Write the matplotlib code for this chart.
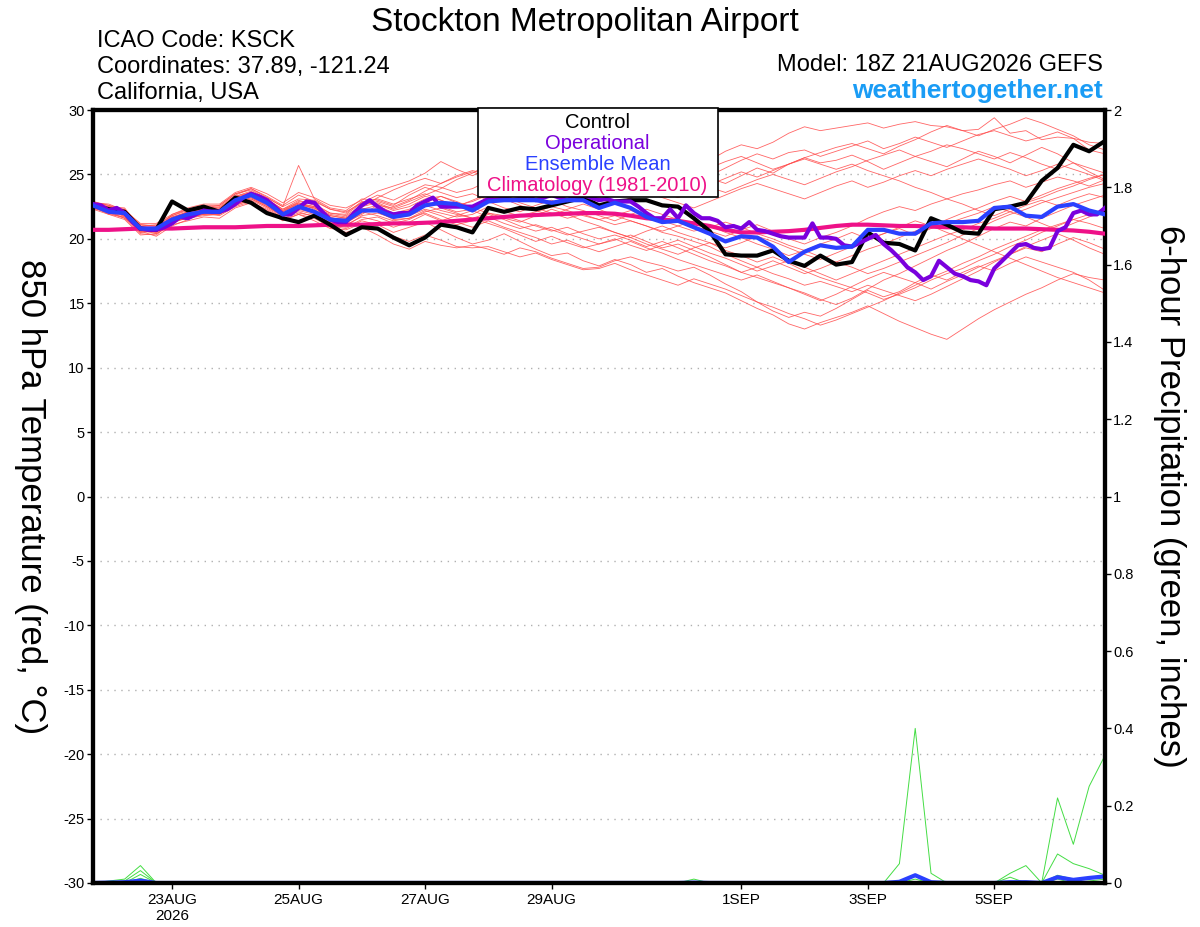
import matplotlib
matplotlib.use("Agg")
import matplotlib.pyplot as plt
import pandas as pd

# ---- data -------------------------------------------------------------
times = pd.date_range("2026-08-21 18:00", "2026-09-06 18:00", freq="6h")
times_op = pd.date_range("2026-08-21 18:00", "2026-09-06 18:00", freq="3h")

control = [22.6, 22.3, 22.1, 20.8, 20.7, 22.9, 22.2, 22.5,
           22.1, 23.2, 22.8, 22.0, 21.6, 21.3, 21.8, 21.1,
           20.3, 20.9, 20.8, 20.1, 19.5, 20.1, 21.1, 20.9,
           20.5, 22.4, 22.1, 22.4, 22.3, 22.6, 22.9, 23.2,
           22.6, 22.9, 23.0, 23.0, 22.6, 22.5, 21.6, 20.6,
           18.8, 18.7, 18.7, 19.1, 18.3, 17.9, 18.7, 18.0,
           18.2, 20.5, 19.7, 19.6, 19.1, 21.6, 21.1, 20.5,
           20.4, 22.3, 22.5, 22.8, 24.5, 25.5, 27.3, 26.8,
           27.6]

ens_mean = [22.6, 22.1, 22.0, 20.8, 20.8, 21.5, 21.9, 22.1,
            22.1, 23.0, 23.4, 22.8, 21.9, 22.5, 22.1, 21.5,
            21.4, 22.2, 22.2, 21.7, 21.9, 22.6, 22.8, 22.7,
            22.2, 22.9, 23.0, 23.0, 23.0, 22.8, 23.0, 23.0,
            22.4, 22.8, 22.4, 21.7, 21.3, 21.4, 20.9, 20.4,
            19.8, 20.2, 20.1, 19.4, 18.2, 19.0, 19.5, 19.3,
            19.4, 20.7, 20.7, 20.4, 20.4, 21.2, 21.3, 21.3,
            21.4, 22.4, 22.5, 21.8, 21.7, 22.5, 22.7, 22.2,
            21.9]

climatology = [20.7, 20.7, 20.75, 20.8, 20.8, 20.8, 20.85, 20.9,
               20.9, 20.9, 20.95, 21.0, 21.0, 21.0, 21.05, 21.1,
               21.1, 21.1, 21.15, 21.2, 21.2, 21.25, 21.3, 21.4,
               21.5, 21.6, 21.7, 21.8, 21.85, 21.9, 21.95, 22.0,
               22.0, 21.95, 21.8, 21.6, 21.5, 21.4, 21.2, 21.0,
               20.7, 20.5, 20.5, 20.55, 20.6, 20.7, 20.85, 21.0,
               21.1, 21.1, 21.05, 21.0, 21.0, 20.95, 20.9, 20.9,
               20.85, 20.8, 20.8, 20.8, 20.75, 20.7, 20.65, 20.55,
               20.4]

operational = [22.7, 22.6, 22.2, 22.4, 22.0, 21.3, 20.8, 20.7,
               20.7, 20.9, 21.2, 21.7, 21.6, 21.9, 22.2, 22.1,
               22.1, 22.3, 22.7, 23.2, 23.5, 23.3, 23.0, 22.5,
               21.9, 21.9, 22.4, 22.9, 22.8, 22.1, 21.5, 21.3,
               21.3, 22.0, 22.6, 23.0, 22.5, 22.1, 21.9, 22.0,
               22.0, 22.6, 22.9, 23.2, 22.5, 22.5, 22.5, 22.5,
               22.5, 22.8, 23.1, 23.0, 23.2, 23.0, 23.1, 23.3,
               23.0, 23.2, 23.4, 23.2, 23.0, 23.3, 23.4, 23.2,
               23.0, 23.1, 22.9, 22.9, 22.9, 22.5, 22.0, 21.6,
               21.6, 22.3, 21.6, 22.6, 22.0, 21.6, 21.6, 21.4,
               20.9, 21.0, 20.8, 21.3, 20.7, 20.6, 20.4, 20.2,
               20.1, 20.1, 20.1, 21.2, 20.1, 20.1, 20.0, 19.5,
               19.4, 19.7, 20.0, 20.3, 19.6, 19.1, 18.5, 17.8,
               17.4, 16.8, 17.1, 18.3, 17.8, 17.3, 17.1, 16.8,
               16.7, 16.4, 17.7, 18.3, 18.9, 19.5, 19.6, 19.3,
               19.2, 19.3, 20.6, 20.9, 22.0, 22.2, 21.9, 21.9,
               22.4]

members = [
    [22.8, 22.6, 22.0, 20.9, 20.6, 21.9, 22.3, 22.4, 22.6, 23.5, 23.8, 23.1, 22.3, 23.0, 22.6, 22.0,
     21.9, 22.8, 23.4, 23.0, 23.6, 24.2, 24.0, 23.6, 23.9, 24.5, 24.8, 24.3, 24.6, 25.0, 24.7, 24.2,
     24.6, 25.1, 25.4, 25.0, 25.6, 26.2, 26.5, 26.1, 26.8, 27.3, 27.0, 27.5, 28.2, 28.7, 28.4, 28.6,
     28.8, 29.0, 28.6, 28.9, 29.1, 28.8, 28.7, 28.4, 28.5, 29.4, 28.2, 28.4, 27.7, 27.9, 27.8, 27.5, 27.4],
    [22.5, 22.3, 21.8, 20.5, 20.8, 21.4, 22.0, 22.3, 22.0, 23.2, 23.6, 23.2, 22.5, 25.7, 23.1, 22.4,
     22.2, 23.1, 23.0, 22.6, 23.4, 24.0, 23.6, 23.2, 23.5, 23.0, 23.8, 24.4, 23.9, 24.3, 24.1, 23.5,
     23.2, 23.6, 24.3, 24.9, 25.4, 25.8, 25.3, 24.9, 25.5, 26.1, 26.6, 26.2, 26.7, 26.9, 26.4, 26.8,
     27.2, 27.6, 27.0, 27.4, 27.9, 27.5, 27.1, 27.6, 28.1, 28.4, 28.0, 27.6, 27.9, 28.3, 27.8, 26.9, 26.6],
    [22.4, 22.0, 22.2, 20.8, 20.5, 21.2, 21.7, 22.0, 22.3, 22.8, 23.2, 22.6, 21.8, 22.6, 22.4, 21.7,
     21.3, 21.9, 22.6, 22.4, 22.9, 23.4, 23.9, 24.6, 25.1, 25.8, 26.3, 25.6, 25.2, 24.8, 24.2, 23.6,
     23.8, 24.5, 24.1, 23.7, 24.2, 24.8, 25.2, 24.7, 24.3, 24.9, 25.5, 25.1, 25.8, 26.3, 25.9, 26.1,
     26.5, 26.0, 25.4, 25.9, 26.4, 26.0, 25.6, 26.2, 26.8, 26.4, 25.9, 26.5, 27.1, 26.6, 25.9, 25.2, 24.6],
    [22.7, 22.1, 21.6, 20.4, 20.3, 21.3, 21.6, 21.8, 21.9, 22.6, 23.0, 22.4, 21.6, 22.0, 21.8, 21.0,
     20.8, 21.4, 21.1, 20.5, 20.9, 21.3, 20.7, 20.1, 19.6, 19.9, 20.4, 19.8, 19.2, 18.7, 18.9, 18.3,
     17.9, 18.4, 18.0, 17.4, 17.7, 17.1, 16.6, 16.2, 15.8, 15.2, 14.6, 14.1, 13.4, 13.0, 13.5, 13.9,
     14.3, 14.8, 14.2, 13.6, 13.1, 12.6, 12.2, 13.0, 13.8, 14.5, 15.1, 15.7, 16.2, 16.8, 17.3, 17.0, 16.8],
    [22.3, 22.4, 21.7, 20.6, 20.2, 21.0, 21.5, 22.0, 21.8, 22.5, 22.9, 22.2, 21.4, 21.9, 21.6, 20.9,
     20.5, 20.9, 20.3, 19.6, 19.2, 19.8, 19.5, 19.3, 19.5, 19.2, 18.8, 19.3, 19.0, 18.5, 18.1, 17.7,
     17.8, 18.3, 18.6, 18.2, 17.9, 17.5, 17.8, 17.2, 16.5, 15.9, 15.1, 14.4, 13.9, 14.3, 14.0, 14.6,
     15.3, 16.0, 15.5, 15.9, 16.6, 17.2, 16.8, 17.4, 17.9, 17.5, 18.1, 18.6, 18.2, 17.8, 17.4, 16.8, 16.0],
    [22.9, 22.5, 22.1, 21.0, 21.1, 21.8, 22.2, 22.4, 22.5, 23.4, 23.9, 23.3, 22.6, 23.4, 22.9, 22.3,
     22.0, 22.9, 22.7, 22.2, 22.5, 23.1, 23.3, 22.8, 22.5, 22.9, 22.4, 22.1, 22.6, 23.0, 22.5, 22.2,
     21.8, 21.4, 21.9, 22.3, 21.9, 21.5, 21.0, 20.6, 20.2, 20.7, 21.1, 20.6, 20.0, 19.6, 20.1, 20.5,
     21.0, 21.6, 22.1, 22.5, 22.2, 22.7, 23.1, 23.5, 23.8, 24.2, 24.5, 24.0, 24.4, 24.8, 24.5, 24.1, 24.6],
    [22.6, 22.0, 21.8, 20.9, 20.9, 21.7, 22.0, 22.2, 22.1, 22.9, 23.3, 22.9, 22.1, 22.8, 22.3, 21.6,
     21.6, 22.4, 22.1, 21.5, 21.6, 22.0, 21.5, 21.1, 21.4, 21.9, 21.5, 21.0, 20.6, 20.9, 20.4, 20.0,
     19.6, 19.9, 20.3, 19.8, 19.3, 19.6, 19.1, 18.6, 18.0, 17.4, 17.0, 16.6, 16.2, 15.8, 15.3, 14.9,
     15.4, 16.1, 16.8, 17.3, 17.9, 18.5, 19.1, 19.6, 20.2, 20.8, 21.3, 21.0, 21.6, 22.1, 22.6, 23.0, 23.4],
    [22.4, 22.2, 22.3, 20.7, 20.7, 21.5, 21.8, 21.9, 22.2, 23.0, 23.5, 22.7, 21.9, 22.4, 22.0, 21.3,
     21.2, 22.0, 22.4, 22.0, 22.3, 22.9, 22.5, 22.1, 22.3, 23.1, 23.3, 22.8, 22.4, 22.0, 21.6, 21.9,
     21.5, 21.1, 21.4, 21.0, 20.5, 20.2, 19.8, 19.4, 18.8, 18.3, 17.8, 17.3, 16.9, 16.4, 16.7, 16.3,
     15.9, 16.4, 16.0, 15.6, 15.2, 15.7, 16.3, 16.9, 17.5, 18.2, 18.8, 19.3, 19.0, 19.6, 20.1, 19.7, 19.2],
    [22.5, 22.3, 21.9, 21.1, 21.0, 21.6, 22.1, 22.5, 22.4, 23.3, 23.7, 23.0, 22.2, 22.9, 22.7, 22.0,
     21.8, 22.6, 22.9, 22.5, 23.0, 23.7, 24.3, 24.9, 25.3, 25.0, 25.6, 26.0, 25.5, 25.1, 25.4, 25.9,
     26.2, 25.7, 25.3, 24.8, 24.4, 24.9, 24.5, 24.0, 23.6, 24.1, 24.6, 25.0, 24.6, 24.2, 24.7, 25.2,
     25.6, 26.1, 26.5, 26.9, 26.4, 26.8, 27.3, 27.0, 26.6, 26.2, 26.7, 26.3, 25.8, 25.4, 25.9, 25.5, 25.1],
    [22.7, 22.4, 22.0, 20.6, 20.9, 21.4, 21.8, 22.1, 22.0, 22.7, 23.1, 22.5, 21.7, 22.3, 22.0, 21.4,
     21.1, 21.7, 21.4, 20.9, 21.3, 21.9, 21.4, 21.8, 22.2, 21.7, 21.2, 20.8, 21.1, 20.7, 20.3, 20.6,
     20.9, 20.5, 20.1, 19.6, 19.2, 18.8, 19.3, 19.7, 19.1, 18.7, 18.2, 18.6, 18.1, 17.5, 17.0, 16.6,
     16.2, 15.8, 15.3, 15.7, 16.2, 16.8, 17.3, 17.7, 18.3, 18.8, 19.4, 19.9, 20.5, 21.0, 21.5, 21.2, 20.8],
    [22.3, 21.9, 21.5, 20.3, 20.4, 21.1, 21.4, 21.7, 21.6, 22.4, 22.8, 22.3, 21.5, 21.9, 21.4, 20.8,
     20.7, 21.2, 20.8, 20.2, 19.8, 20.3, 19.9, 19.4, 19.3, 19.4, 19.0, 18.6, 18.9, 18.4, 18.0, 17.6,
     17.7, 18.1, 17.6, 17.2, 16.8, 16.4, 16.9, 16.5, 16.1, 15.6, 15.1, 14.7, 14.2, 13.8, 13.3, 13.7,
     14.2, 14.7, 15.2, 15.8, 16.4, 17.0, 17.5, 18.1, 18.6, 19.2, 19.7, 20.2, 20.7, 21.1, 21.5, 21.9, 22.3],
    [22.8, 22.7, 22.2, 21.2, 21.2, 21.9, 22.4, 22.7, 22.7, 23.6, 24.0, 23.5, 22.8, 23.6, 23.2, 22.6,
     22.4, 23.0, 23.7, 24.1, 24.5, 25.1, 26.0, 25.4, 24.9, 25.5, 25.9, 26.4, 26.8, 26.3, 25.9, 26.4,
     26.8, 27.2, 26.7, 26.3, 25.8, 25.4, 25.0, 25.5, 26.0, 26.4, 25.9, 25.4, 25.8, 26.3, 26.7, 27.1,
     27.4, 27.0, 26.6, 27.2, 27.7, 28.3, 28.8, 28.4, 28.0, 28.5, 28.9, 29.4, 29.0, 28.5, 28.0, 27.3, 26.9],
    [22.5, 21.9, 21.7, 20.5, 20.6, 21.3, 21.7, 21.9, 21.9, 22.6, 23.1, 22.5, 21.8, 22.2, 21.9, 21.2,
     21.0, 21.8, 22.0, 21.6, 21.8, 22.3, 22.0, 21.7, 21.9, 22.5, 22.1, 21.8, 22.1, 22.5, 22.2, 21.8,
     21.5, 21.8, 22.2, 21.9, 21.4, 21.0, 20.6, 20.9, 21.3, 20.9, 20.4, 20.0, 19.5, 19.1, 18.6, 18.2,
     17.8, 17.3, 17.7, 18.2, 18.7, 19.2, 19.7, 20.3, 20.8, 21.4, 21.9, 22.3, 22.8, 23.2, 23.6, 24.0, 24.3],
    [22.6, 22.5, 22.4, 20.8, 20.7, 21.7, 22.1, 22.3, 22.3, 23.2, 23.5, 22.8, 22.1, 22.7, 22.4, 21.8,
     21.6, 22.3, 22.6, 22.0, 22.2, 22.8, 23.3, 22.9, 22.4, 22.0, 21.6, 21.3, 21.8, 22.3, 21.9, 21.4,
     21.0, 20.5, 20.1, 20.6, 21.0, 20.5, 20.1, 19.7, 19.3, 19.7, 20.2, 19.8, 19.3, 18.8, 18.4, 18.9,
     19.4, 19.9, 20.4, 20.9, 21.4, 21.0, 21.5, 22.0, 22.4, 22.9, 23.3, 22.9, 23.4, 23.9, 24.3, 24.7, 25.0],
    [22.4, 22.0, 21.6, 20.7, 20.4, 21.2, 21.9, 22.0, 22.1, 22.9, 23.4, 22.9, 22.0, 22.6, 22.2, 21.5,
     21.3, 22.1, 21.8, 21.4, 21.6, 22.2, 21.8, 21.3, 20.9, 21.4, 20.9, 20.5, 20.1, 19.6, 19.9, 19.4,
     19.0, 19.4, 19.8, 19.3, 18.9, 18.4, 18.0, 17.6, 17.2, 16.8, 17.2, 16.7, 16.2, 15.7, 15.2, 15.7,
     16.3, 16.9, 17.4, 17.0, 16.6, 16.1, 16.7, 17.2, 17.8, 18.3, 18.8, 19.4, 19.9, 20.4, 19.9, 19.3, 18.8],
    [22.7, 22.2, 22.1, 20.9, 20.8, 21.5, 21.7, 22.2, 22.2, 23.1, 23.3, 22.7, 21.9, 22.4, 22.2, 21.6,
     21.5, 22.2, 22.3, 21.8, 22.1, 22.6, 22.2, 21.9, 21.6, 22.0, 21.8, 21.4, 21.0, 20.6, 20.9, 20.4,
     20.0, 20.3, 19.9, 19.4, 19.8, 19.3, 18.8, 18.3, 17.9, 17.4, 17.8, 18.3, 17.8, 17.3, 17.7, 18.2,
     18.7, 19.2, 19.6, 20.1, 20.6, 21.0, 20.5, 20.0, 19.5, 19.0, 18.5, 18.0, 17.5, 17.0, 16.6, 16.2, 15.8],
    [22.9, 22.6, 22.3, 21.1, 21.0, 21.8, 22.3, 22.6, 22.6, 23.5, 23.9, 23.2, 22.5, 23.1, 23.0, 22.3,
     22.1, 22.8, 23.1, 22.7, 23.1, 23.5, 23.0, 22.6, 22.9, 23.4, 23.0, 23.5, 23.9, 24.3, 23.9, 23.5,
     23.1, 22.7, 23.2, 23.6, 23.2, 22.8, 22.4, 22.9, 23.4, 23.9, 24.3, 23.9, 23.5, 23.1, 23.6, 24.1,
     24.5, 24.0, 24.4, 24.9, 25.3, 24.9, 25.4, 25.8, 26.2, 25.8, 25.4, 24.9, 25.3, 25.8, 25.4, 25.0, 24.5],
    [22.5, 22.1, 21.9, 20.6, 20.5, 21.4, 21.6, 21.9, 22.0, 22.8, 23.2, 22.6, 21.8, 22.1, 21.7, 21.1,
     20.9, 21.5, 21.7, 21.2, 21.5, 22.1, 22.4, 22.0, 21.6, 21.2, 20.8, 20.3, 19.8, 20.2, 19.7, 19.3,
     19.6, 20.0, 19.5, 19.1, 19.5, 19.9, 19.4, 18.9, 18.5, 18.0, 17.5, 17.9, 18.3, 17.8, 17.3, 16.8,
     17.3, 17.8, 18.3, 18.8, 19.3, 19.8, 20.3, 20.7, 21.2, 21.6, 22.1, 21.7, 21.2, 20.7, 21.2, 21.7, 22.1],
    [22.6, 22.3, 22.0, 20.8, 20.9, 21.6, 22.0, 22.3, 22.3, 23.1, 23.6, 23.0, 22.3, 22.8, 22.5, 21.9,
     21.7, 22.5, 22.8, 22.3, 22.7, 23.3, 23.0, 22.5, 23.0, 23.5, 23.1, 22.6, 22.2, 21.8, 22.3, 22.7,
     22.3, 21.8, 21.4, 21.0, 20.6, 21.0, 21.4, 21.0, 20.5, 20.1, 19.6, 19.2, 18.7, 19.1, 19.6, 20.0,
     20.5, 20.0, 20.4, 20.8, 20.3, 20.8, 21.2, 21.6, 22.0, 22.5, 22.1, 22.6, 23.0, 22.6, 23.1, 23.5, 23.2],
    [22.8, 22.4, 22.1, 20.9, 20.8, 21.6, 22.1, 22.3, 22.4, 23.3, 23.6, 22.9, 22.2, 22.7, 22.5, 21.8,
     21.6, 22.5, 23.2, 23.8, 24.3, 24.7, 24.3, 24.8, 25.2, 24.8, 24.4, 24.8, 25.3, 24.9, 24.4, 24.0,
     23.6, 24.0, 24.5, 24.1, 23.6, 23.2, 23.7, 24.2, 24.7, 25.2, 24.8, 25.3, 25.8, 26.2, 25.8, 25.4,
     25.8, 25.3, 24.9, 24.5, 24.0, 23.6, 23.1, 22.7, 22.2, 21.8, 22.3, 22.8, 23.2, 23.7, 24.1, 24.6, 25.0],
]

precip_members = [
    [0, 0.005, 0.01, 0.045, 0, 0, 0, 0, 0, 0, 0, 0, 0, 0, 0, 0,
     0, 0, 0, 0, 0, 0, 0, 0, 0, 0, 0, 0, 0, 0, 0, 0,
     0, 0, 0, 0, 0, 0, 0, 0, 0, 0, 0, 0, 0, 0, 0, 0,
     0, 0, 0, 0.05, 0.40, 0.025, 0, 0, 0, 0, 0.025, 0.045, 0, 0.22, 0.10, 0.25, 0.33],
    [0, 0, 0.005, 0.032, 0, 0, 0, 0, 0, 0, 0, 0, 0, 0, 0, 0,
     0, 0, 0, 0, 0, 0, 0, 0, 0, 0, 0, 0, 0, 0, 0, 0,
     0, 0, 0, 0, 0, 0, 0.01, 0, 0, 0, 0, 0, 0, 0, 0, 0,
     0, 0, 0, 0, 0, 0, 0, 0, 0, 0, 0.015, 0, 0, 0.075, 0.05, 0.037, 0.02],
    [0, 0, 0, 0.022, 0, 0, 0, 0, 0, 0, 0, 0, 0, 0, 0, 0,
     0, 0, 0, 0, 0, 0, 0, 0, 0, 0, 0, 0, 0, 0, 0, 0,
     0, 0, 0, 0, 0, 0, 0, 0, 0, 0, 0, 0, 0, 0, 0, 0,
     0, 0, 0, 0, 0.01, 0, 0, 0, 0, 0, 0, 0, 0, 0.02, 0.01, 0.015, 0.02],
    [0, 0, 0, 0.012, 0, 0, 0, 0, 0, 0, 0, 0, 0, 0, 0, 0,
     0, 0, 0, 0, 0, 0, 0, 0, 0, 0, 0, 0, 0, 0, 0, 0,
     0, 0, 0, 0, 0, 0, 0, 0, 0, 0, 0, 0, 0, 0, 0, 0,
     0, 0, 0, 0, 0, 0, 0, 0, 0, 0, 0, 0, 0, 0.01, 0, 0.005, 0.01],
]

precip_mean = [0, 0.001, 0.002, 0.006, 0, 0, 0, 0, 0, 0, 0, 0, 0, 0, 0, 0,
               0, 0, 0, 0, 0, 0, 0, 0, 0, 0, 0, 0, 0, 0, 0, 0,
               0, 0, 0, 0, 0, 0, 0.001, 0, 0, 0, 0, 0, 0, 0, 0, 0,
               0, 0, 0, 0.003, 0.02, 0.002, 0, 0, 0, 0, 0.002, 0.002, 0, 0.015, 0.008, 0.013, 0.017]

tick_dates = ["2026-08-23", "2026-08-25", "2026-08-27", "2026-08-29",
              "2026-09-01", "2026-09-03", "2026-09-05"]
tick_labels = ["23AUG\n2026", "25AUG", "27AUG", "29AUG", "1SEP", "3SEP", "5SEP"]

# ---- figure -----------------------------------------------------------
plt.rcParams["font.family"] = ["Liberation Sans", "DejaVu Sans"]
plt.rcParams["axes.unicode_minus"] = False

fig = plt.figure(figsize=(12, 9.27), dpi=100)
ax = fig.add_axes([0.0775, 0.0475, 0.8433, 0.8338])
ax2 = ax.twinx()

ax.set_zorder(2)
ax.patch.set_visible(False)

for m in members:
    ax.plot(times, m, color="#ff4a4a", lw=0.6, alpha=0.85, zorder=2)
ax.plot(times, climatology, color="#ee1188", lw=3, zorder=3)
ax.plot(times, control, color="black", lw=3, zorder=4)
ax.plot(times_op, operational, color="#7a00dd", lw=3, zorder=5)
ax.plot(times, ens_mean, color="#2a40ff", lw=3, zorder=6)

for p in precip_members:
    ax2.plot(times, p, color="#44dd44", lw=0.7)
ax2.plot(times, precip_mean, color="#2a40ff", lw=3)

ax.set_ylim(-30, 30)
ax.set_yticks(range(-30, 31, 5))
ax2.set_ylim(0, 2)
ax2.set_yticks([0, 0.2, 0.4, 0.6, 0.8, 1, 1.2, 1.4, 1.6, 1.8, 2])
ax2.set_yticklabels(["0", "0.2", "0.4", "0.6", "0.8", "1", "1.2", "1.4", "1.6", "1.8", "2"])
ax.set_xlim(times[0], times[-1])
ax.set_xticks(pd.to_datetime(tick_dates))
ax.set_xticklabels(tick_labels)

for yv in range(-25, 30, 5):
    ax.axhline(yv, color="#b0b0b0", lw=1, ls=(0, (1, 4)), zorder=1)

for a in (ax, ax2):
    for s in a.spines.values():
        s.set_linewidth(3)
    a.tick_params(labelsize=10.5, length=4, width=1, pad=2)
ax.tick_params(axis="x", labelsize=11, pad=3)

ax.set_ylabel("850 hPa Temperature (red, °C)", fontsize=25, rotation=270,
              va="center", ha="center")
ax.yaxis.set_label_coords(-0.062, 0.5)
ax2.set_ylabel("6-hour Precipitation (green, inches)", fontsize=25, rotation=270,
               va="center", ha="center")
ax2.yaxis.set_label_coords(1.064, 0.5)

# legend box
legend_lines = [("Control", "black"), ("Operational", "#7a00dd"),
                ("Ensemble Mean", "#2a40ff"), ("Climatology (1981-2010)", "#ee1188")]
box = plt.Rectangle((0.38, 0.888), 0.2375, 0.115, transform=ax.transAxes,
                    facecolor="white", edgecolor="black", lw=1.2, zorder=10, clip_on=False)
ax.add_patch(box)
for k, (txt, col) in enumerate(legend_lines):
    ax.text(0.4985, 0.9845 - k * 0.0275, txt, transform=ax.transAxes, ha="center",
            va="center", fontsize=14.5, color=col, zorder=11)

fig.text(0.4875, 0.976, "Stockton Metropolitan Airport", ha="center", va="center",
         fontsize=24)
fig.text(0.081, 0.956, "ICAO Code: KSCK", ha="left", va="center", fontsize=17)
fig.text(0.081, 0.928, "Coordinates: 37.89, -121.24", ha="left", va="center", fontsize=17)
fig.text(0.081, 0.900, "California, USA", ha="left", va="center", fontsize=17)
fig.text(0.919, 0.930, "Model: 18Z 21AUG2026 GEFS", ha="right", va="center", fontsize=17)
fig.text(0.919, 0.902, "weathertogether.net", ha="right", va="center", fontsize=19,
         color="#1a9cf5", weight="bold")

fig.savefig("out.png", dpi=100)
